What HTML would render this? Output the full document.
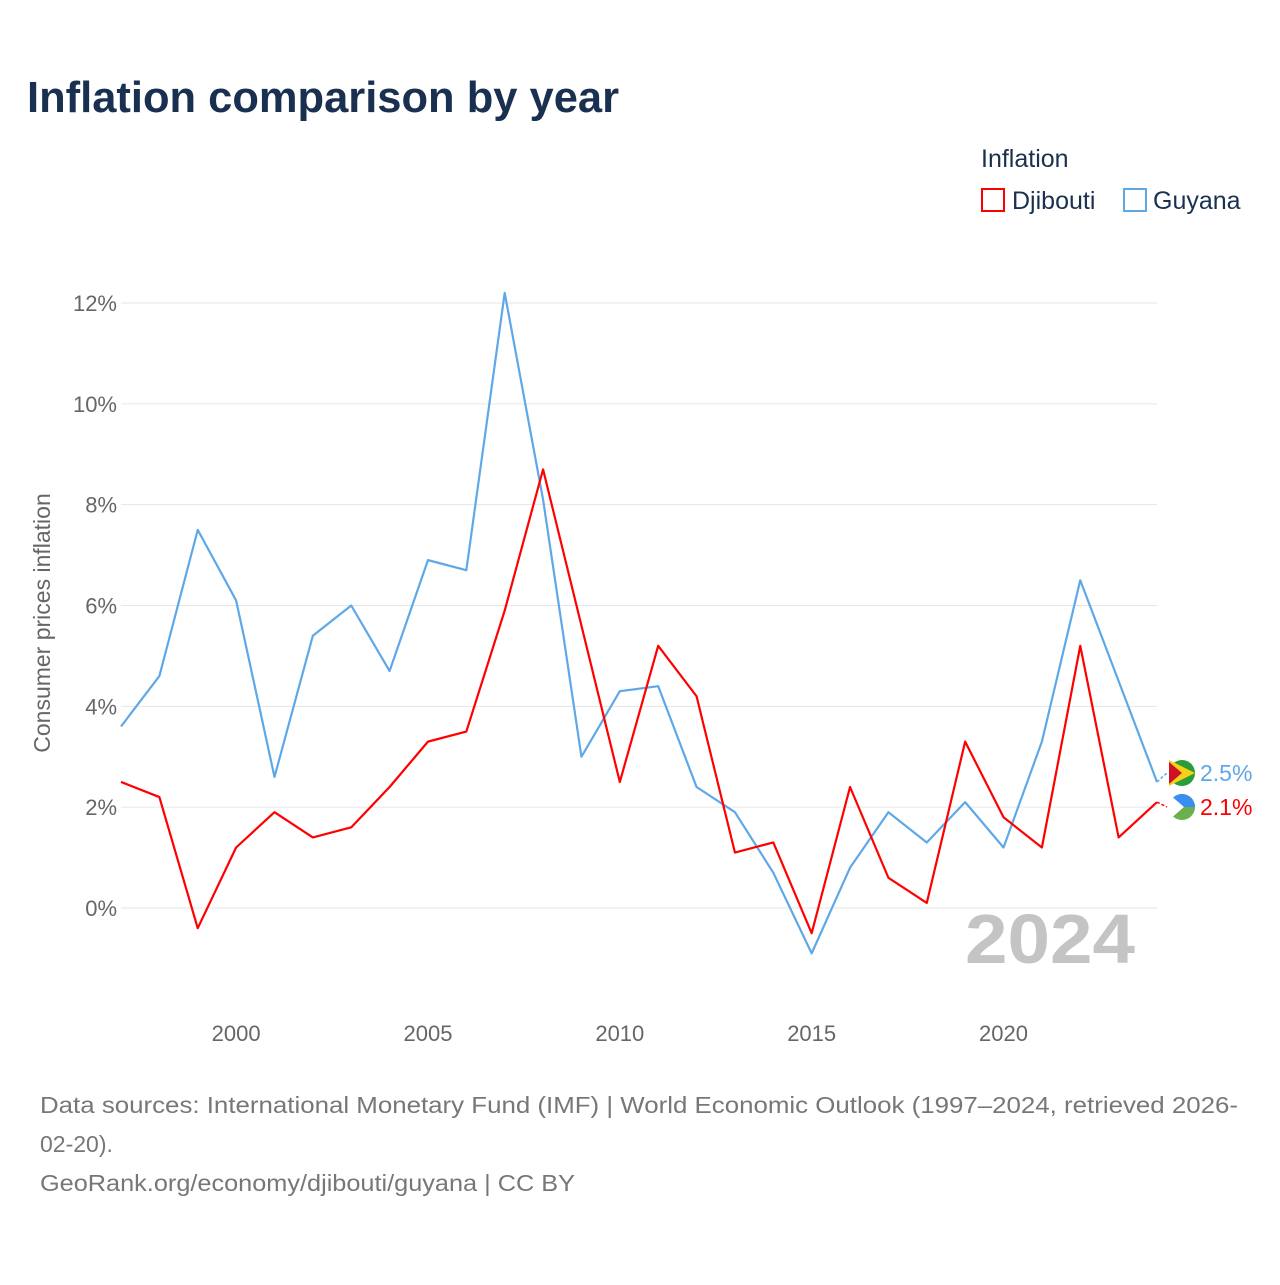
<!DOCTYPE html>
<html><head><meta charset="utf-8"><style>
body{margin:0;background:#fff;font-family:"Liberation Sans",sans-serif;}
#wrap{position:relative;width:1280px;height:1280px;}
</style></head><body><div id="wrap">
<svg id="chart" width="1280" height="1280" xmlns="http://www.w3.org/2000/svg">
<text x="27" y="112" font-size="44" font-weight="bold" fill="#1a3050" textLength="592" lengthAdjust="spacingAndGlyphs">Inflation comparison by year</text>
<text x="981" y="167" font-size="25" fill="#1a3050">Inflation</text>
<g><rect x="982" y="189" width="22" height="22" fill="none" stroke="#f00" stroke-width="2"/><text x="1012" y="209" font-size="25" fill="#1a3050">Djibouti</text></g>
<g><rect x="1124" y="189" width="22" height="22" fill="none" stroke="#5fa8e8" stroke-width="2"/><text x="1153" y="209" font-size="25" fill="#1a3050">Guyana</text></g>
<g id="grid"></g><g id="xt"></g>
<text x="965" y="963" font-size="70" font-weight="bold" fill="#c4c4c4" textLength="170" lengthAdjust="spacingAndGlyphs">2024</text>
<g id="lines"></g>
<text transform="translate(50,623) rotate(-90)" text-anchor="middle" font-size="23" fill="#666">Consumer prices inflation</text>
<text x="40" y="1113" font-size="23" fill="#777" textLength="1198" lengthAdjust="spacingAndGlyphs">Data sources: International Monetary Fund (IMF) | World Economic Outlook (1997–2024, retrieved 2026-</text>
<text x="40" y="1152" font-size="23" fill="#777">02-20).</text>
<text x="40" y="1191" font-size="23" fill="#777" textLength="535" lengthAdjust="spacingAndGlyphs">GeoRank.org/economy/djibouti/guyana | CC BY</text>
</svg></div>
<script>
const years=[1997,1998,1999,2000,2001,2002,2003,2004,2005,2006,2007,2008,2009,2010,2011,2012,2013,2014,2015,2016,2017,2018,2019,2020,2021,2022,2023,2024];
const djibouti=[2.5,2.2,-0.4,1.2,1.9,1.4,1.6,2.4,3.3,3.5,5.9,8.7,5.6,2.5,5.2,4.2,1.1,1.3,-0.5,2.4,0.6,0.1,3.3,1.8,1.2,5.2,1.4,2.1];
const guyana=[3.6,4.6,7.5,6.1,2.6,5.4,6.0,4.7,6.9,6.7,12.2,8.1,3.0,4.3,4.4,2.4,1.9,0.7,-0.9,0.8,1.9,1.3,2.1,1.2,3.3,6.5,4.5,2.5];
const yTicks=[0,2,4,6,8,10,12];
const xTicks=[2000,2005,2010,2015,2020];
const NS="http://www.w3.org/2000/svg";
const X=v=>121+(v-1997)*(1157-121)/27;
const Y=v=>908-v*(908-303)/12;
const grid=document.getElementById('grid'),xt=document.getElementById('xt'),lines=document.getElementById('lines');
function mk(tag,attrs,parent){const e=document.createElementNS(NS,tag);for(const k in attrs)e.setAttribute(k,attrs[k]);parent.appendChild(e);return e;}
yTicks.forEach(t=>{
 const l=mk('line',{x1:121,x2:1157,y1:Y(t),y2:Y(t),stroke:'#e6e6e6','stroke-width':1},grid);
 
 
 const tx=mk('text',{x:117,y:Y(t)+8,'text-anchor':'end','font-size':22,fill:'#666'},grid);
 tx.textContent=t+'%';
 
 
});
xTicks.forEach(t=>{
 const tx=mk('text',{x:X(t),y:1041,'text-anchor':'middle','font-size':22,fill:'#666'},xt);
 tx.textContent=t;
 
 
});
function series(vals,color,name,labelY){
 const p=mk('polyline',{points:vals.map((v,i)=>X(years[i])+','+Y(v)).join(' '),fill:'none',stroke:color,'stroke-width':2.2,'stroke-linejoin':'round'},lines);
 
 
 const last=vals[vals.length-1];
 mk('line',{x1:X(2024),y1:Y(last),x2:1167,y2:labelY,stroke:color,'stroke-width':1.5,'stroke-dasharray':'3,2'},lines);
 const c=mk('circle',{cx:1182,cy:labelY,r:13,fill:name=='guyana'?'#2a9d3a':'#6ab04c'},lines);
 
 
 if(name=='guyana'){mk('path',{d:`M1169 ${labelY-13} L1195 ${labelY} L1169 ${labelY+13}Z`,fill:'#f7d117'},lines);mk('path',{d:`M1169 ${labelY-11} L1182 ${labelY} L1169 ${labelY+11}Z`,fill:'#ce1126'},lines);}
 else{mk('path',{d:`M1169 ${labelY} A13 13 0 0 1 1195 ${labelY}Z`,fill:'#3a8ef0'},lines);mk('path',{d:`M1169 ${labelY-13} L1184 ${labelY} L1169 ${labelY+13}Z`,fill:'#fff'},lines);}
 const t=mk('text',{x:1200,y:labelY+8,'font-size':23,fill:color},lines);
 t.textContent=last.toFixed(1)+'%';
 
 
}
series(guyana,'#5fa8e8','guyana',773);
series(djibouti,'#f00','djibouti',807);
</script></body></html>
